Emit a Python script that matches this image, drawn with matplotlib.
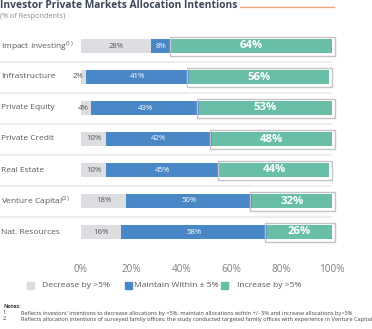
import matplotlib
matplotlib.use("Agg")
import matplotlib.pyplot as plt
import matplotlib.transforms as mtransforms
from matplotlib.patches import Rectangle

categories = ["Impact Investing", "Infrastructure", "Private Equity", "Private Credit",
              "Real Estate", "Venture Capital", "Nat. Resources"]
superscripts = ["(1)", "", "", "", "", "(2)", ""]
decrease = [28, 2, 4, 10, 10, 18, 16]
maintain = [8, 41, 43, 42, 45, 50, 58]
increase = [64, 56, 53, 48, 44, 32, 26]
xticks = [0, 20, 40, 60, 80, 100]
xtick_labels = ["0%", "20%", "40%", "60%", "80%", "100%"]
legend_labels = ["Decrease by >5%", "Maintain Within \u00b1 5%", "Increase by >5%"]
title = "Investor Private Markets Allocation Intentions"
subtitle = "(% of Respondents)"
notes = ["Reflects investors' intentions to decrease allocations by >5%, maintain allocations within +/- 5% and increase allocations by>5%",
         "Reflects allocation intentions of surveyed family offices; the study conducted targeted family offices with experience in Venture Capital"]

C_DEC = "#DDDEE1"
C_MAIN = "#4A87C6"
C_INC = "#69BEA8"
C_TITLE = "#3B4659"
C_TXT = "#595959"

plt.rcParams['font.family'] = ['Open Sans', 'DejaVu Sans']
plt.rcParams['mathtext.fontset'] = 'custom'
plt.rcParams['mathtext.rm'] = 'Open Sans'

W, H = 372, 329
fig = plt.figure(figsize=(W / 100, H / 100), dpi=100)

def fx(px):
    return px / W

def fy(py):
    return 1 - py / H

# axes: x 0..100 -> px 81..332 ; rows centered at 46 + 31*i
x0, x1 = 81, 332
ytop, ybot = 30.5, 30.5 + 31 * 7
ax = fig.add_axes([fx(x0), fy(ybot), fx(x1 - x0), (ybot - ytop) / H])
ax.set_xlim(0, 100)
ax.set_ylim(6.5, -0.5)
ax.axis("off")

n = len(categories)
ys = list(range(n))
bh = 14 / 31
ax.barh(ys, decrease, height=bh, color=C_DEC, zorder=2)
ax.barh(ys, maintain, left=decrease, height=bh, color=C_MAIN, zorder=2)
lefts2 = [d + m for d, m in zip(decrease, maintain)]
ax.barh(ys, increase, left=lefts2, height=bh, color=C_INC, zorder=3)

# outline boxes around increase segments
ppx = 100 / (x1 - x0)  # data per px
ppy = 1 / 31
for i in ys:
    l = lefts2[i] - 1.5 * ppx
    r = lefts2[i] + increase[i] + 2.5 * ppx
    rect = Rectangle((l, i - bh / 2 - 2.5 * ppy), r - l, bh + 5 * ppy,
                     fill=False, edgecolor="#C4C4C4", lw=1.0, zorder=4, clip_on=False)
    ax.add_patch(rect)

# separators
blend = mtransforms.blended_transform_factory(fig.transFigure, ax.transData)
for i in range(n - 1):
    ax.plot([0, fx(331)], [i + 0.5, i + 0.5], color="#EBEBEB", lw=1.2,
            transform=blend, clip_on=False, zorder=1)

# value labels
for i in ys:
    d, m, inc = decrease[i], maintain[i], increase[i]
    if d >= 8:
        ax.text(d / 2, i, f"{d}%", ha="center", va="center", fontsize=5.6, color=C_TXT, zorder=5)
    else:
        ax.text(d - 1.0, i, f"{d}%", ha="right", va="center", fontsize=5.6, color=C_TXT, zorder=5)
    ax.text(d + m / 2, i, f"{m}%", ha="center", va="center", fontsize=5.6, color="white", zorder=5)
    ax.text(d + m + inc / 2, i, f"{inc}%", ha="center", va="center", fontsize=8.2,
            color="white", fontweight="bold", zorder=5)

# category labels
for i, (c, s) in enumerate(zip(categories, superscripts)):
    label = c + (r"$^{" + s + "}$" if s else "")
    fig.text(fx(1), fy(46 + 31 * i), label, ha="left", va="center", fontsize=6.0, color=C_TXT)

# x tick labels
for t, lab in zip(xticks, xtick_labels):
    fig.text(fx(x0 + (x1 - x0) * t / 100), fy(269), lab, ha="center", va="center",
             fontsize=7.2, color="#7F7F7F")

# title
fig.text(fx(0), fy(6), title, ha="left", va="center", fontsize=7.4, fontweight="bold", color=C_TITLE)
fig.lines.append(plt.Line2D([fx(240), fx(334)], [fy(6.5), fy(6.5)], color="#F2A57A", lw=1.0,
                            transform=fig.transFigure))
fig.text(fx(0), fy(16), subtitle, ha="left", va="center", fontsize=5.2, color="#8C8C8C")

# legend
leg_items = [(27, 42, C_DEC), (125, 134, C_MAIN), (221, 237, C_INC)]
for (sqx, tx, col), lab in zip(leg_items, legend_labels):
    fig.patches.append(Rectangle((fx(sqx), fy(289)), fx(7), 7 / H, color=col,
                                 transform=fig.transFigure))
    fig.text(fx(tx), fy(285.5), lab, ha="left", va="center", fontsize=6.1, color=C_TXT)

# notes
fig.text(fx(3), fy(307), "Notes:", ha="left", va="center", fontsize=4.0, fontweight="bold", color="#404040")
for k, nt in enumerate(notes):
    fig.text(fx(3), fy(313 + 6 * k), f"{k + 1}.", ha="left", va="center", fontsize=4.1, color="#404040")
    fig.text(fx(21), fy(313 + 6 * k), nt, ha="left", va="center", fontsize=4.1, color="#404040")

fig.savefig("out.png", dpi=100)
